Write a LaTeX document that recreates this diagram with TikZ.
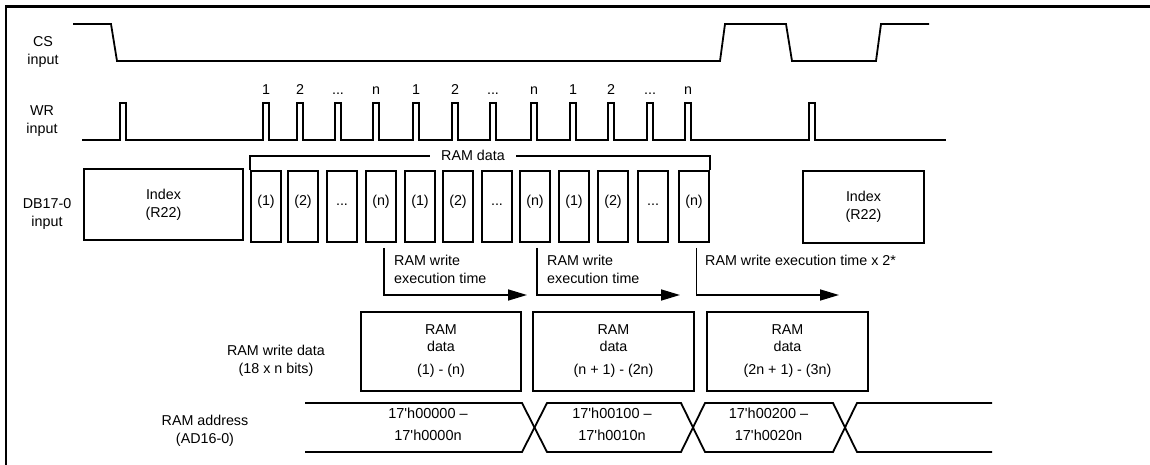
\documentclass[tikz,border=0pt]{standalone}
\usepackage{fontspec}
\setmainfont{Liberation Sans}
\usetikzlibrary{arrows.meta}
\newcommand\mydots{...}
\begin{document}
\begin{tikzpicture}[x=1pt,y=-1pt,line join=miter,
  sig/.style={line width=1.8pt},
  box/.style={draw,line width=1.6pt,inner sep=0pt,font=\fontsize{14.3}{18}\selectfont,align=center},
  dbox/.style={box,minimum width=30pt,minimum height=71pt},
  wbox/.style={box,minimum width=160pt,minimum height=79pt,font=\fontsize{14.3}{16.5}\selectfont},
  lbl/.style={align=center,inner sep=0pt,font=\fontsize{14.3}{18}\selectfont},
  tx/.style={inner sep=0pt,font=\fontsize{14.3}{18}\selectfont,text height=10pt,text depth=3pt},
  arr/.style={line width=1.6pt,-{Triangle[length=19pt,width=11pt]}},
]
\useasboundingbox (0,0) rectangle (1150,465);
\draw[line width=2.4pt] (6.2,465) -- (6.2,6.7) -- (1150,6.7);

% signal labels
\node[lbl] (cs)  at (43,51.5)  {CS\\input};
\node[lbl] (wr)  at (42,121.5) {WR\\input};
\node[lbl] (db)  at (47,214)   {DB17-0\\input};
\node[lbl] (rwd) at (276,361)  {RAM write data\\(18 x n bits)};
\node[lbl] (rad) at (205,431)  {RAM address\\(AD16-0)};

% CS waveform
\draw[sig] (73,24) -- (111,24) -- (117,61) -- (720,61) -- (725,24) -- (786,24)
  -- (792,61) -- (876,61) -- (881,24) -- (929,24);

% WR waveform
\draw[sig] (82,140) foreach \p in {120,263,297,335,373,413,452,490,531,570,608,647,685,809}
  { -- (\p,140) -- (\p,103) -- (\p+6,103) -- (\p+6,140) } -- (946,140);
\foreach \p/\t [count=\i] in {263/1,297/2,335/\mydots,373/n,413/1,452/2,490/\mydots,531/n,570/1,608/2,647/\mydots,685/n}
  \node[tx] (w\i) at (\p+3,91.5) {\t};

% DB17-0 boxes
\node[box,minimum width=159pt,minimum height=71pt] (idx1) at (163.5,204.5) {Index\\(R22)};
\node[box,minimum width=121pt,minimum height=72pt] (idx2) at (863.5,207) {Index\\(R22)};
\foreach \x/\t [count=\i] in {251/(1),288/(2),327/\mydots,366/(n),405/(1),443/(2),482/\mydots,520/(n),559/(1),598/(2),638/\mydots,679/(n)}
  \node[dbox,label={[tx,yshift=5pt]center:\t}] (b\i) at (\x+15,206.5) {};

% RAM data bracket
\draw[line width=1.5pt] (b1.north west) -- ++(0,-14) -| (b12.north east);
\node[tx,fill=white,inner xsep=11pt] (rd) at (473,157) {RAM data};

% execution time arrows
\coordinate (e1) at (527,295);
\coordinate (e2) at (680,295);
\coordinate (e3) at (839,295);
\draw[arr] ([xshift=3pt,yshift=-5pt]b4.south) |- (e1);
\draw[arr] ([xshift=2pt,yshift=-5pt]b8.south) |- (e2);
\draw[arr] ([xshift=2.5pt,yshift=-5pt]b12.south) |- (e3);
\node[lbl,align=left,anchor=north west] (t1) at (394,254.6) {RAM write\\execution time};
\node[lbl,align=left,anchor=north west] (t2) at (547,254.6) {RAM write\\execution time};
\node[lbl,anchor=north west] (t3) at (705,254.6) {RAM write execution time x 2*};

% RAM write data boxes
\node[wbox] (d1) at (441,351.5) {RAM\\data\\[7pt](1) - (n)};
\node[wbox,minimum width=161pt] (d2) at (613.5,351.5) {RAM\\data\\[7pt](n + 1) - (2n)};
\node[wbox,minimum width=161pt] (d3) at (787.5,351.5) {RAM\\data\\[7pt](2n + 1) - (3n)};

% RAM address bus
\draw[sig] (305,403) -- (522,403) -- (547,452) -- (681,452) -- (705,403) -- (833,403) -- (857,452) -- (992,452);
\draw[sig] (305,452) -- (522,452) -- (547,403) -- (681,403) -- (705,452) -- (833,452) -- (857,403) -- (992,403);
\node[lbl,font=\fontsize{14.5}{22}\selectfont] (a1) at (428,424.5) {17\textquotesingle h00000 –\\17\textquotesingle h0000n};
\node[lbl,font=\fontsize{14.5}{22}\selectfont] (a2) at (612,424.5) {17\textquotesingle h00100 –\\17\textquotesingle h0010n};
\node[lbl,font=\fontsize{14.5}{22}\selectfont] (a3) at (768.5,424.5) {17\textquotesingle h00200 –\\17\textquotesingle h0020n};
\end{tikzpicture}
\end{document}
